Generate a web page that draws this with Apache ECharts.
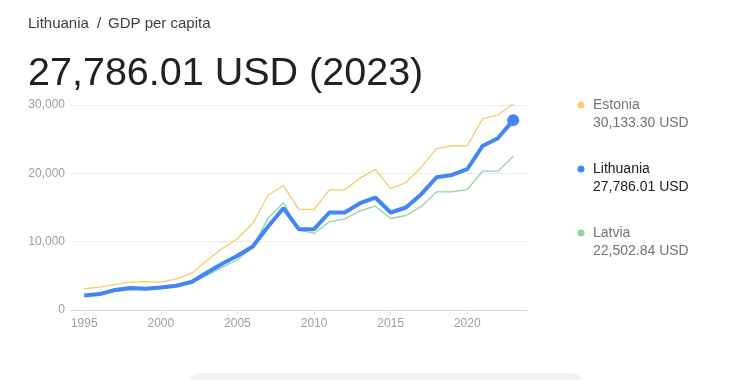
<!DOCTYPE html>
<html>
<head>
<meta charset="utf-8">
<script src="https://cdn.jsdelivr.net/npm/echarts@6/dist/echarts.min.js"></script>
<style>
html,body{margin:0;padding:0;background:#fff;}
#c{width:740px;height:380px;}
</style>
</head>
<body>
<div id="c"></div>
<script>
var years = [1995,1996,1997,1998,1999,2000,2001,2002,2003,2004,2005,2006,2007,2008,2009,2010,2011,2012,2013,2014,2015,2016,2017,2018,2019,2020,2021,2022,2023];
var estonia = [3110,3360,3700,4090,4140,4090,4570,5350,7250,8960,10470,12660,16800,18210,14760,14710,17580,17580,19290,20600,17770,18650,20900,23620,24060,24010,27960,28540,30133.30];
var lithuania = [2133,2330,2920,3210,3110,3300,3550,4090,5450,6770,7930,9300,12220,14900,11830,11830,14270,14270,15630,16460,14270,15000,16950,19430,19770,20600,24000,25130,27786.01];
var latvia = [2050,2300,2700,2950,3050,3300,3500,3950,5060,6230,7350,9200,13440,15680,11730,11200,12900,13340,14510,15200,13390,13830,15140,17290,17290,17630,20310,20310,22502.84];
var xTicks = [1995,2000,2005,2010,2015,2020];
var yTicks = [0,10000,20000,30000];
var names = ['Estonia','Lithuania','Latvia'];

function pairs(arr){ return years.map(function(y,i){ return [y, arr[i]]; }); }
function fmt(v){ return v.toLocaleString('en-US',{minimumFractionDigits:2,maximumFractionDigits:2}) + ' USD'; }

var colors = {Estonia:'#fcc96b', Lithuania:'#4285f4', Latvia:'#93d3a2'};
var chart = echarts.init(document.getElementById('c'), null, {renderer:'canvas'});
var lastIdx = years.length-1;
var fontFam = '"Liberation Sans", Arial, sans-serif';

var legendItems = [];
var legendSeries = [estonia, lithuania, latvia];
names.forEach(function(n,i){
  var top = 98 + i*64;
  var dark = n === 'Lithuania';
  legendItems.push({type:'circle', shape:{cx:581, cy:top+7, r:3.5}, style:{fill:colors[n]}});
  legendItems.push({type:'text', left:593, top:top, style:{text:n, font:'14px '+fontFam, fill: dark ? '#202124' : '#70757a'}});
  legendItems.push({type:'text', left:593, top:top+18, style:{text:fmt(legendSeries[i][lastIdx]), font:'14px '+fontFam, fill: dark ? '#202124' : '#70757a'}});
});

chart.setOption({
  animation:false,
  grid:{left:70, right:213, top:105, bottom:70},
  xAxis:{
    type:'value', min:1994.07, max:2023.9,
    axisLine:{show:true, lineStyle:{color:'#dadce0'}},
    axisTick:{show:true, length:5, lineStyle:{color:'#dadce0'}, customValues:xTicks},
    axisLabel:{color:'#9aa0a6', fontSize:12, fontFamily:fontFam, margin:8, customValues:xTicks, formatter:function(v){return String(v);}},
    splitLine:{show:false}
  },
  yAxis:{
    type:'value', min:0, max:30000, interval:10000,
    axisLine:{show:false}, axisTick:{show:false},
    axisLabel:{color:'#9aa0a6', fontSize:12, fontFamily:fontFam, margin:5, formatter:function(v){return v.toLocaleString('en-US');}},
    splitLine:{show:true, lineStyle:{color:'#ececec'}}
  },
  series:[
    {type:'line', name:'Estonia', data:pairs(estonia), showSymbol:false, clip:false, lineStyle:{color:colors.Estonia, width:1.3}, z:2},
    {type:'line', name:'Latvia', data:pairs(latvia), showSymbol:false, clip:false, lineStyle:{color:colors.Latvia, width:1.3}, z:2},
    {type:'line', name:'Lithuania', data:pairs(lithuania), showSymbol:false, clip:false, lineStyle:{color:colors.Lithuania, width:4}, z:3},
    {type:'scatter', data:[[years[lastIdx], lithuania[lastIdx]]], symbolSize:12, itemStyle:{color:colors.Lithuania, opacity:1}, z:4}
  ],
  graphic:[
    {type:'text', left:28, top:16, style:{text:'Lithuania', font:'15px '+fontFam, fill:'#3c4043'}},
    {type:'text', left:97, top:16, style:{text:'/', font:'15px '+fontFam, fill:'#3c4043'}},
    {type:'text', left:108, top:16, style:{text:'GDP per capita', font:'15px '+fontFam, fill:'#3c4043'}},
    {type:'text', left:28, top:54, style:{text:'27,786.01 USD (2023)', font:'39.5px '+fontFam, fill:'#202124'}},
    {type:'rect', shape:{x:187, y:373, width:398, height:30, r:14}, style:{fill:'#f1f3f4'}}
  ].concat(legendItems)
});
</script>
</body>
</html>
